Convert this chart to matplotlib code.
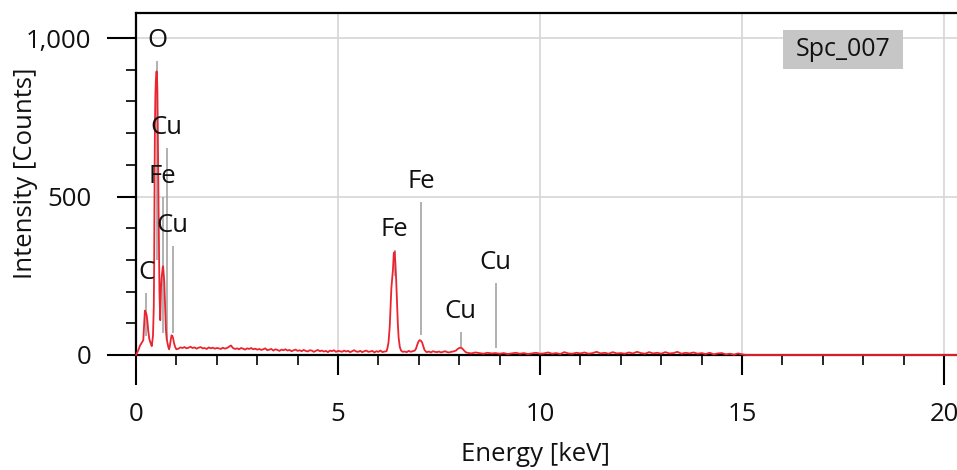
import numpy as np
import matplotlib
matplotlib.use("Agg")
import matplotlib.pyplot as plt
from matplotlib.ticker import MultipleLocator, FuncFormatter
from matplotlib.patches import Rectangle

plt.rcParams['font.family'] = ['Open Sans', 'DejaVu Sans']
FS = 18.5

# spectrum: low-energy peaks (C, O, Fe L, Cu L)
low_energy = [0.00, 0.03, 0.06, 0.10, 0.14, 0.18, 0.20, 0.22, 0.24, 0.26,
              0.28, 0.30, 0.33, 0.36, 0.39, 0.42, 0.44, 0.45, 0.46, 0.47,
              0.48, 0.49, 0.50, 0.51, 0.52, 0.53, 0.54, 0.55, 0.56, 0.57,
              0.58, 0.59, 0.60, 0.61, 0.62, 0.63, 0.64, 0.65, 0.66, 0.67,
              0.68, 0.69, 0.70, 0.71, 0.72, 0.73, 0.74, 0.76, 0.78, 0.80,
              0.82, 0.84, 0.86, 0.88, 0.90, 0.92, 0.94, 0.97, 1.00]
low_counts = [0, 8, 16, 30, 38, 47, 95, 140, 135, 128,
              110, 79, 50, 38, 28, 60, 150, 300, 560, 740,
              820, 860, 885, 895, 880, 830, 700, 560, 420, 300,
              200, 150, 110, 160, 215, 240, 250, 262, 275, 280,
              265, 245, 230, 190, 150, 110, 80, 50, 38, 25,
              18, 30, 48, 62, 60, 52, 38, 25, 18]

# background 1.05 - 6.20 keV, 0.05 keV channels
bg1_counts = [20, 24, 22, 25, 21, 23, 26, 22, 24, 20, 23, 25, 21, 22, 19, 24, 21, 23, 20, 22,
              21, 19, 23, 20, 22, 26, 30, 22, 19, 21, 18, 22, 20, 17, 21, 19, 22, 18, 20, 17,
              19, 16, 18, 21, 15, 17, 19, 14, 18, 16, 13, 17, 15, 18, 14, 16, 12, 15, 17, 13,
              15, 12, 16, 13, 11, 15, 14, 10, 13, 16, 12, 14, 11, 13, 9, 14, 12, 15, 10, 13,
              12, 10, 14, 11, 13, 9, 12, 15, 11, 10, 13, 9, 12, 14, 10, 11, 13, 8, 12, 10,
              14, 9, 11, 12]
bg1_energy = np.round(1.05 + 0.05 * np.arange(len(bg1_counts)), 2)

# Fe K region and Cu K alpha
fek_energy = [6.22, 6.25, 6.28, 6.30, 6.32, 6.34, 6.36, 6.38, 6.40, 6.42,
              6.44, 6.46, 6.48, 6.50, 6.53, 6.56, 6.60, 6.65, 6.70, 6.75,
              6.80, 6.85, 6.90, 6.93, 6.96, 6.99, 7.02, 7.05, 7.08, 7.11,
              7.14, 7.18, 7.20, 7.25, 7.30, 7.35, 7.40, 7.45, 7.50, 7.55,
              7.60, 7.65, 7.70, 7.75, 7.80, 7.85, 7.92, 7.96, 8.00, 8.04,
              8.08, 8.12, 8.16]
fek_counts = [20, 40, 90, 150, 210, 240, 270, 320, 325, 290,
              235, 170, 100, 55, 25, 14, 10, 11, 9, 13,
              10, 12, 14, 20, 32, 42, 47, 45, 40, 28,
              16, 10, 9, 11, 8, 12, 10, 9, 11, 8,
              10, 12, 9, 8, 10, 11, 14, 19, 22, 23,
              20, 14, 9]

# background 8.2 - 15.0 keV, 0.1 keV channels, then nothing above
bg2_counts = [7, 5, 8, 6, 4, 7, 5, 6, 4,
              6, 3, 5, 7, 4, 6, 3, 5, 7, 4,
              5, 8, 4, 6, 3, 9, 5, 4, 7, 5,
              8, 4, 6, 10, 5, 7, 4, 9, 5, 6,
              4, 8, 5, 10, 6, 4, 9, 5, 7, 4,
              9, 5, 6, 10, 4, 7, 5, 8, 4, 6,
              3, 7, 2, 5, 6, 2, 4, 1, 5, 2]
bg2_energy = np.round(8.2 + 0.1 * np.arange(len(bg2_counts)), 2)
tail_energy = [15.1, 20.4]
tail_counts = [0, 0]

# peak markers
peak_labels = ['C', 'O', 'Fe', 'Cu', 'Cu', 'Fe', 'Fe', 'Cu', 'Cu']
peak_energy = [0.25, 0.53, 0.66, 0.76, 0.91, 6.40, 7.06, 8.04, 8.90]
peak_top = [195, 928, 499, 653, 345, 331, 483, 73, 227]
peak_bottom = [60, 300, 70, 47, 70, 250, 63, 26, 22]

energy = np.concatenate([low_energy, bg1_energy, fek_energy, bg2_energy, tail_energy])
counts = np.concatenate([low_counts, bg1_counts, fek_counts, bg2_counts, tail_counts])

fig = plt.figure(figsize=(9.57, 4.70), dpi=100)
ax = fig.add_axes([136 / 957, 1 - 355 / 470, 821 / 957, 342 / 470])

ax.set_xlim(0, 20.32)
ax.set_ylim(0, 1079)

ax.grid(True, which='major', color='#d6d6d6', linewidth=1.2, zorder=0)
ax.set_axisbelow(True)

# peak marker lines and labels
ax.vlines(peak_energy, peak_bottom, peak_top, color='#a3a3a3', linewidth=1.2, zorder=2)
for lab, e, top in zip(peak_labels, peak_energy, peak_top):
    ax.annotate(lab, xy=(e, top), xytext=(0, 10), textcoords='offset points',
                ha='center', va='baseline', fontsize=FS, color='#111111', zorder=4)

ax.plot(energy, counts, color='#ec2430', linewidth=1.3, zorder=3, clip_on=False)

# spectrum name box
ax.add_patch(Rectangle((0.788, 0.836), 0.146, 0.114, transform=ax.transAxes,
                       facecolor='#c6c6c6', edgecolor='none', zorder=4))
ax.text(0.861, 0.893, 'Spc_007', transform=ax.transAxes, ha='center', va='center',
        fontsize=FS - 0.5, color='#111111', zorder=5)

for side in ['left', 'bottom', 'top']:
    ax.spines[side].set_linewidth(1.6)
    ax.spines[side].set_color('black')
ax.spines['right'].set_visible(False)

ax.set_xticks([0, 5, 10, 15, 20])
ax.set_yticks([0, 500, 1000])
ax.xaxis.set_minor_locator(MultipleLocator(1))
ax.yaxis.set_minor_locator(MultipleLocator(100))
ax.yaxis.set_major_formatter(FuncFormatter(lambda v, p: f'{v:,.0f}'))

ax.tick_params(axis='x', which='major', length=21.6, width=1.5, pad=12, labelsize=FS,
               colors='black', labelcolor='#111111')
ax.tick_params(axis='y', which='major', length=21, width=1.5, pad=11, labelsize=FS,
               colors='black', labelcolor='#111111')
ax.tick_params(which='minor', length=7.2, width=1.2, colors='black')
ax.tick_params(top=False, right=False, which='both')

# inner major ticks are shorter than the end ticks
for t in ax.xaxis.get_major_ticks()[1:4]:
    t.tick1line.set_markersize(14.4)
ax.yaxis.get_major_ticks()[1].tick1line.set_markersize(13.7)

ax.set_xlabel('Energy [keV]', fontsize=FS, color='#111111')
ax.set_ylabel('Intensity [Counts]', fontsize=FS, color='#111111')
ax.xaxis.label.set_verticalalignment('center')
ax.yaxis.label.set_verticalalignment('center')
ax.xaxis.set_label_coords(0.486, -0.29)
ax.yaxis.set_label_coords(-0.135, 0.53)

fig.savefig('out.png', dpi=100)
